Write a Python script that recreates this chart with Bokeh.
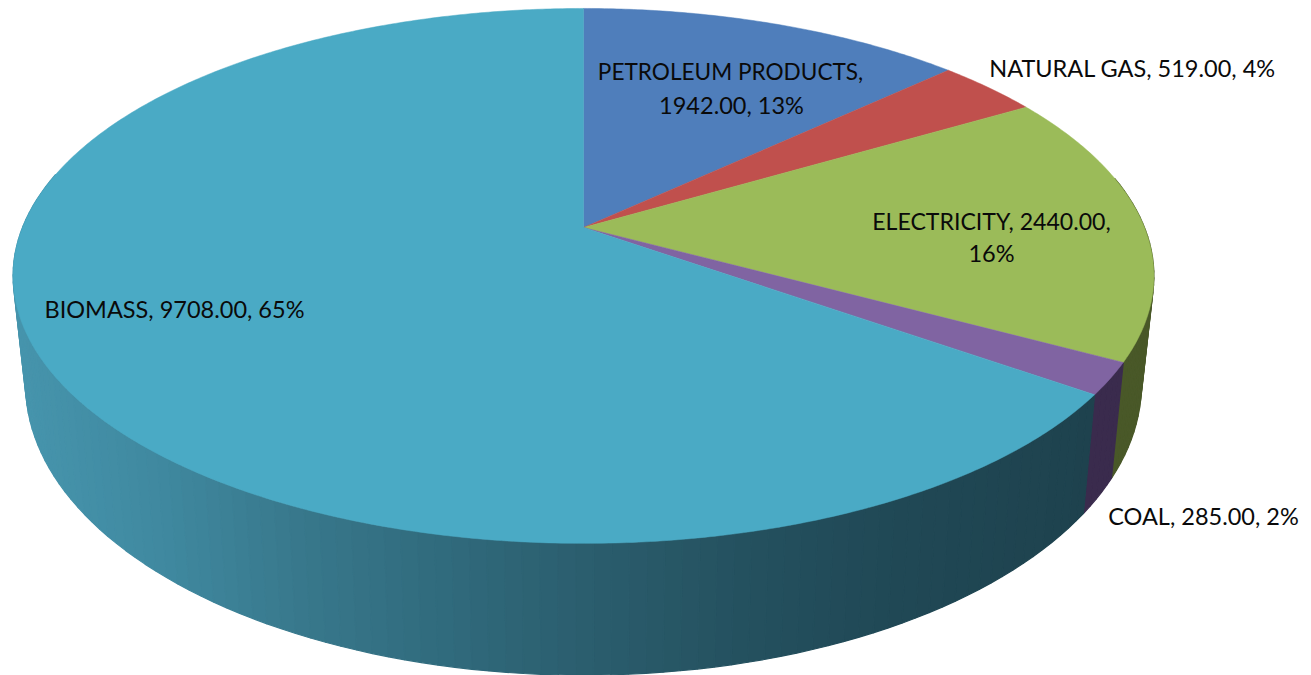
import numpy as np
from bokeh.plotting import figure
from bokeh.models import Range1d
from bokeh.core.properties import value
from bokeh.embed import file_html
from bokeh.resources import INLINE

categories = ["PETROLEUM PRODUCTS", "NATURAL GAS", "ELECTRICITY", "COAL", "BIOMASS"]
values = [1942.00, 519.00, 2440.00, 285.00, 9708.00]
percents = [13, 4, 16, 2, 65]
top_colors = ["#4F7EBB", "#C0504D", "#9BBB59", "#8064A2", "#4AAAC5"]
side_colors = ["#2F4B70", "#73302E", "#495828", "#3A2B4D", None]

# Pie geometry in reference pixels: centre, half axes, perspective of each disc
TOP = dict(cx=583.0, cy=227.0, a=561.0, b=258.7, k=0.181)
BOTTOM = dict(cx=583.0, cy=331.2, a=548.7, b=281.3, k=0.181)
# Shading of the biomass wall across the page
WALL_X = [25, 150, 300, 450, 583, 750, 900, 1090]
WALL_RGB = [(70, 148, 172), (64, 138, 161), (56, 120, 140), (48, 106, 124),
            (43, 94, 110), (36, 80, 94), (32, 72, 85), (30, 66, 78)]


def project(theta, d):
    u, v = np.sin(theta), -np.cos(theta)
    w = 1 - d["k"] * v
    return d["cx"] + d["a"] * u / w, d["cy"] + d["b"] * v / w


def wall_color(x):
    rgb = [int(round(np.interp(x, WALL_X, [c[i] for c in WALL_RGB]))) for i in range(3)]
    return "#%02x%02x%02x" % tuple(rgb)


total = sum(values)
edges = 2 * np.pi * np.concatenate([[0], np.cumsum(values)]) / total

p = figure(width=1311, height=675, output_backend="svg", toolbar_location=None,
           x_range=Range1d(0, 1311), y_range=Range1d(675, 0),
           min_border=0, outline_line_color=None, background_fill_color="white",
           border_fill_color="white")
p.axis.visible = False
p.grid.visible = False

# Outer wall: small quads, far ones first
quads = []
step = np.radians(1.5)
for i, _ in enumerate(categories):
    t0, t1 = edges[i], edges[i + 1]
    n = max(1, int(np.ceil((t1 - t0) / step)))
    ts = t0 + (t1 - t0) * np.arange(n + 1) / n
    for a, b in zip(ts[:-1], ts[1:]):
        mid = 0.5 * (a + b)
        if np.cos(mid) > 0.2:      # back of the disc is hidden by the top face
            continue
        xa, ya = project(a, TOP)
        xb, yb = project(b, TOP)
        xc, yc = project(b, BOTTOM)
        xd, yd = project(a, BOTTOM)
        col = side_colors[i] or wall_color(0.25 * (xa + xb + xc + xd))
        quads.append((-np.cos(mid), [xa, xb, xc, xd], [ya, yb, yc, yd], col))
quads.sort(key=lambda q: q[0])
p.patches([q[1] for q in quads], [q[2] for q in quads], fill_color=[q[3] for q in quads],
          line_color=[q[3] for q in quads], line_width=1.2)

# Top face
for i, _ in enumerate(categories):
    t0, t1 = edges[i], edges[i + 1]
    n = max(8, int(np.degrees(t1 - t0) * 2))
    ts = t0 + (t1 - t0) * np.arange(n + 1) / n
    x, y = project(ts, TOP)
    cx, cy = TOP["cx"], TOP["cy"]
    p.patch(np.r_[cx, x], np.r_[cy, y], fill_color=top_colors[i],
            line_color=top_colors[i], line_width=0.5)

# Data labels
def num(v):
    return f"{v:.2f}"

lab_text = [
    f"{categories[0]},", f"{num(values[0])}, {percents[0]}%",
    f"{categories[1]}, {num(values[1])}, {percents[1]}%",
    f"{categories[2]}, {num(values[2])},", f"{percents[2]}%",
    f"{categories[3]}, {num(values[3])}, {percents[3]}%",
    f"{categories[4]}, {num(values[4])}, {percents[4]}%",
]
lab_x = [730, 731, 1132, 991, 991, 1203, 174]
lab_y = [71, 104, 67, 220, 252, 515, 308]
lab_size = ["22.6px", "23.5px", "23.5px", "23.1px", "23.5px", "23.5px", "23.5px"]
p.text(x=lab_x, y=lab_y, text=lab_text, text_font=value("Lato"), text_font_size=lab_size,
       text_color="#0a0a0a", text_align="center", text_baseline="middle")

open("out.html", "w").write(file_html(p, INLINE))
